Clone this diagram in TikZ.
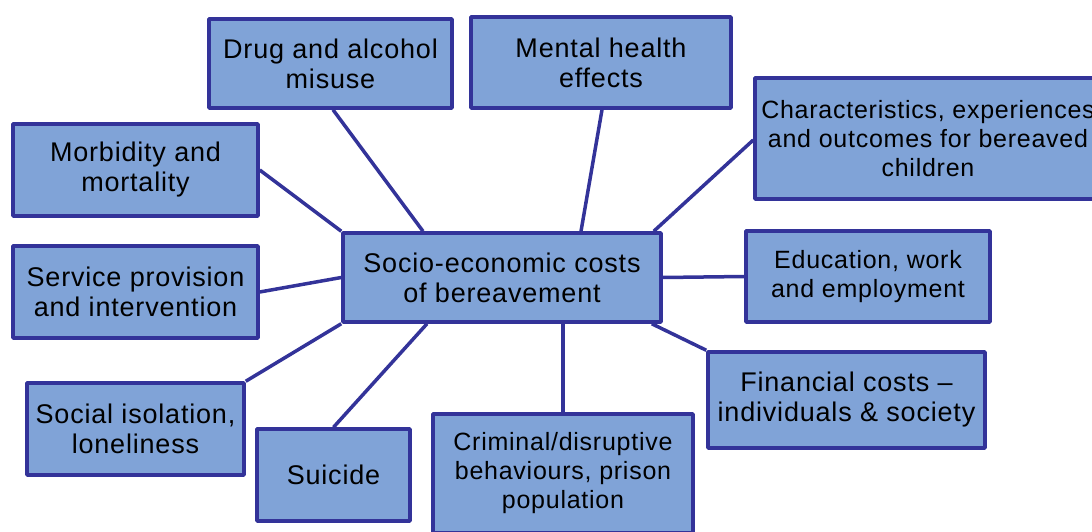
\documentclass[tikz,border=0pt]{standalone}
\usepackage{fontspec}
\setmainfont{Liberation Sans}[LetterSpace=3]
\usetikzlibrary{positioning,calc}
\definecolor{boxblue}{RGB}{128,163,215}
\definecolor{edgeblue}{RGB}{51,51,153}
\tikzstyle{block}=[draw=edgeblue,fill=boxblue,rectangle,line width=3.5pt,
  line join=round,inner sep=0pt,align=center,font=\fontsize{27}{30}\selectfont]
\tikzstyle{smallblock}=[block,font=\fontsize{25}{29}\selectfont]
\tikzstyle{link}=[draw=edgeblue,line width=3.5pt]

\begin{document}
\begin{tikzpicture}[x=1pt,y=-1pt]
  \clip (0,0) rectangle (1092,532);
  \node[block, minimum width=318pt, minimum height=89pt] (costs) at (502,277.5) {Socio-economic costs\\of bereavement};
  \node[block, minimum width=243pt, minimum height=89pt] (drug) at (330.5,63.5) {Drug and alcohol\\misuse};
  \node[block, minimum width=260pt, minimum height=91pt] (mental) at (601,62.5) {Mental health\\effects};
  \node[smallblock, minimum width=346pt, minimum height=121pt] (children) at (928,138.5) {Characteristics, experiences\\and outcomes for bereaved\\children};
  \node[block, minimum width=245pt, minimum height=92pt] (morbidity) at (135.5,170) {Morbidity and\\mortality};
  \node[block, minimum width=245pt, minimum height=92pt] (service) at (135.5,292) {Service provision\\and intervention};
  \node[smallblock, minimum width=244pt, minimum height=91pt] (education) at (868,276.5) {Education, work\\and employment};
  \node[block, minimum width=277pt, minimum height=96pt] (financial) at (846.5,400) {Financial costs --\\individuals \& society};
  \node[block, minimum width=217pt, minimum height=92pt] (isolation) at (135.5,429) {Social isolation,\\loneliness};
  \node[block, minimum width=153pt, minimum height=92pt] (suicide) at (333.5,475) {Suicide};
  \node[smallblock, minimum width=260pt, minimum height=119pt] (criminal) at (563,473.5) {Criminal/disruptive\\behaviours, prison\\population};
  \draw[link] ($(drug.south)+(2.5,0)$) -- ($(costs.north)+(-79,0)$);
  \draw[link] ($(mental.south)+(1,0)$) -- ($(costs.north)+(79,0)$);
  \draw[link] ($(children.west)+(0,1.5)$) -- ($(costs.north east)+(-9,0)$);
  \draw[link] (morbidity.east) -- (costs.north west);
  \draw[link] (service.east) -- (costs.west);
  \draw[link] (costs.east) -- (education.west);
  \draw[link] ($(costs.south east)+(-11,0)$) -- (financial.north west);
  \draw[link] (isolation.north east) -- (costs.south west);
  \draw[link] (suicide.north) -- ($(costs.south)+(-75,0)$);
  \draw[link] (criminal.north) -- ($(costs.south)+(61,0)$);
\end{tikzpicture}
\end{document}
